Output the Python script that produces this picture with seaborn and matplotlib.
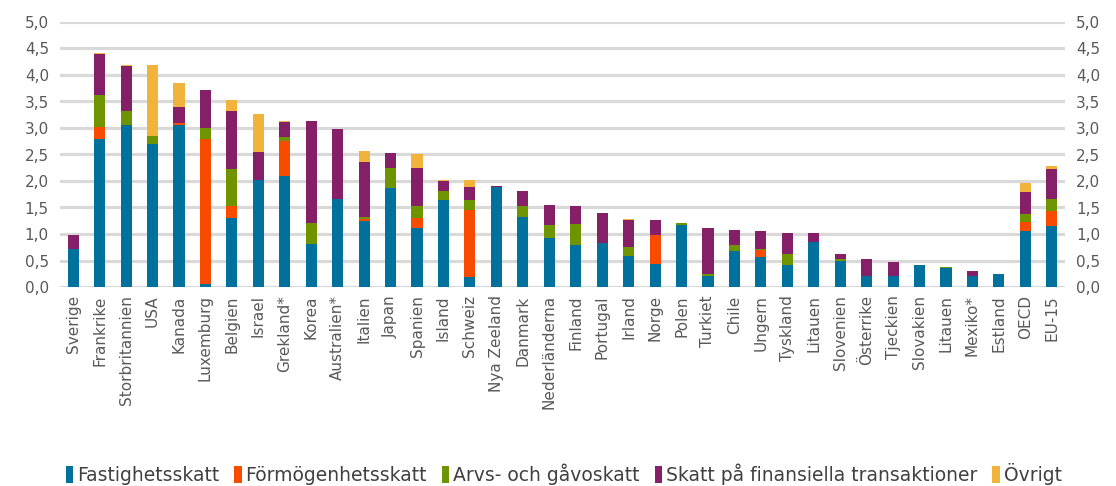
import matplotlib
matplotlib.use("Agg")
import matplotlib.pyplot as plt
import seaborn as sns
import pandas as pd
import numpy as np
from matplotlib.patches import Patch
from matplotlib.ticker import FuncFormatter

countries = ["Sverige", "Frankrike", "Storbritannien", "USA", "Kanada", "Luxemburg", "Belgien",
             "Israel", "Grekland*", "Korea", "Australien*", "Italien", "Japan", "Spanien",
             "Island", "Schweiz", "Nya Zeeland", "Danmark", "Nederländerna", "Finland",
             "Portugal", "Irland", "Norge", "Polen", "Turkiet", "Chile", "Ungern", "Tyskland",
             "Litauen", "Slovenien", "Österrike", "Tjeckien", "Slovakien", "Litauen",
             "Mexiko*", "Estland", "OECD", "EU-15"]

fastighet = [0.71, 2.79, 3.06, 2.70, 3.05, 0.06, 1.31, 2.02, 2.10, 0.82, 1.66, 1.24, 1.86, 1.11,
             1.64, 0.19, 1.88, 1.33, 0.92, 0.79, 0.83, 0.59, 0.44, 1.17, 0.20, 0.68, 0.56, 0.41,
             0.85, 0.50, 0.21, 0.21, 0.42, 0.36, 0.20, 0.24, 1.05, 1.16]
formogenhet = [0.00, 0.22, 0.00, 0.00, 0.04, 2.73, 0.21, 0.00, 0.66, 0.00, 0.00, 0.04, 0.00, 0.20,
               0.00, 1.26, 0.00, 0.00, 0.00, 0.00, 0.00, 0.00, 0.54, 0.00, 0.00, 0.00, 0.14, 0.00,
               0.00, 0.00, 0.00, 0.00, 0.00, 0.00, 0.00, 0.00, 0.18, 0.27]
arvs = [0.00, 0.62, 0.27, 0.14, 0.00, 0.21, 0.71, 0.00, 0.07, 0.39, 0.00, 0.05, 0.39, 0.22,
        0.17, 0.19, 0.00, 0.19, 0.25, 0.40, 0.00, 0.16, 0.00, 0.03, 0.04, 0.11, 0.02, 0.21,
        0.00, 0.02, 0.00, 0.00, 0.00, 0.02, 0.00, 0.00, 0.15, 0.23]
finansiell = [0.27, 0.77, 0.84, 0.00, 0.30, 0.71, 1.10, 0.52, 0.29, 1.93, 1.33, 1.02, 0.27, 0.72,
              0.19, 0.24, 0.03, 0.29, 0.38, 0.34, 0.56, 0.52, 0.28, 0.00, 0.88, 0.28, 0.34, 0.40,
              0.16, 0.11, 0.31, 0.26, 0.00, 0.00, 0.11, 0.00, 0.42, 0.57]
ovrigt = [0.00, 0.01, 0.02, 1.34, 0.45, 0.00, 0.19, 0.72, 0.02, 0.00, 0.00, 0.21, 0.01, 0.26,
          0.02, 0.14, 0.00, 0.01, 0.00, 0.00, 0.00, 0.01, 0.00, 0.00, 0.00, 0.00, 0.00, 0.00,
          0.00, 0.00, 0.01, 0.00, 0.00, 0.00, 0.00, 0.00, 0.16, 0.06]

series_names = ["Fastighetsskatt", "Förmögenhetsskatt", "Arvs- och gåvoskatt",
                "Skatt på finansiella transaktioner", "Övrigt"]
colors = ["#00709C", "#F84B00", "#6E9400", "#851F67", "#F2B33D"]
yticks = [0.0, 0.5, 1.0, 1.5, 2.0, 2.5, 3.0, 3.5, 4.0, 4.5, 5.0]

sns.set_style("white")
plt.rcParams['font.family'] = ['DejaVu Sans']

fig = plt.figure(figsize=(11.16, 4.86), dpi=100)
ax = fig.add_axes([60 / 1116, 1 - 287 / 486, (1065 - 60) / 1116, (287 - 22) / 486])

layers = [fastighet, formogenhet, arvs, finansiell, ovrigt]
cum = np.cumsum(np.array(layers), axis=0)
pos = [str(i) for i in range(len(countries))]

for k in range(len(layers) - 1, -1, -1):
    df = pd.DataFrame({"pos": pos, "val": cum[k]})
    sns.barplot(data=df, x="pos", y="val", order=pos, color=colors[k], saturation=1,
                width=0.42, errorbar=None, ax=ax, edgecolor="none", linewidth=0)

ax.set_xlim(-0.5, len(countries) - 0.5)
ax.set_ylim(0, 5.0)
ax.set_yticks(yticks)
ax.yaxis.set_major_formatter(FuncFormatter(lambda v, p: f"{v:.1f}".replace(".", ",")))
ax.set_xticks(range(len(countries)))
ax.set_xticklabels(countries, rotation=90)
ax.set_xlabel("")
ax.set_ylabel("")
ax.yaxis.grid(True, color="#D9D9D9", linewidth=2.3)
ax.set_axisbelow(True)
for s in ax.spines.values():
    s.set_visible(False)
ax.tick_params(axis="y", which="both", length=0, labelright=True, labelleft=True,
               labelsize=11, colors="#595959", pad=8)
ax.tick_params(axis="x", length=0, labelsize=11, colors="#595959", pad=6)

handles = [Patch(facecolor=c, edgecolor="none") for c in colors]
fig.legend(handles, series_names, loc="center", bbox_to_anchor=(0.505, 1 - 474 / 486),
           ncol=5, frameon=False, fontsize=13.5, handlelength=0.4, handleheight=1.0,
           handletextpad=0.2, columnspacing=0.8, labelcolor="#404040",
           borderpad=0, borderaxespad=0)

fig.savefig("out.png", dpi=100)
